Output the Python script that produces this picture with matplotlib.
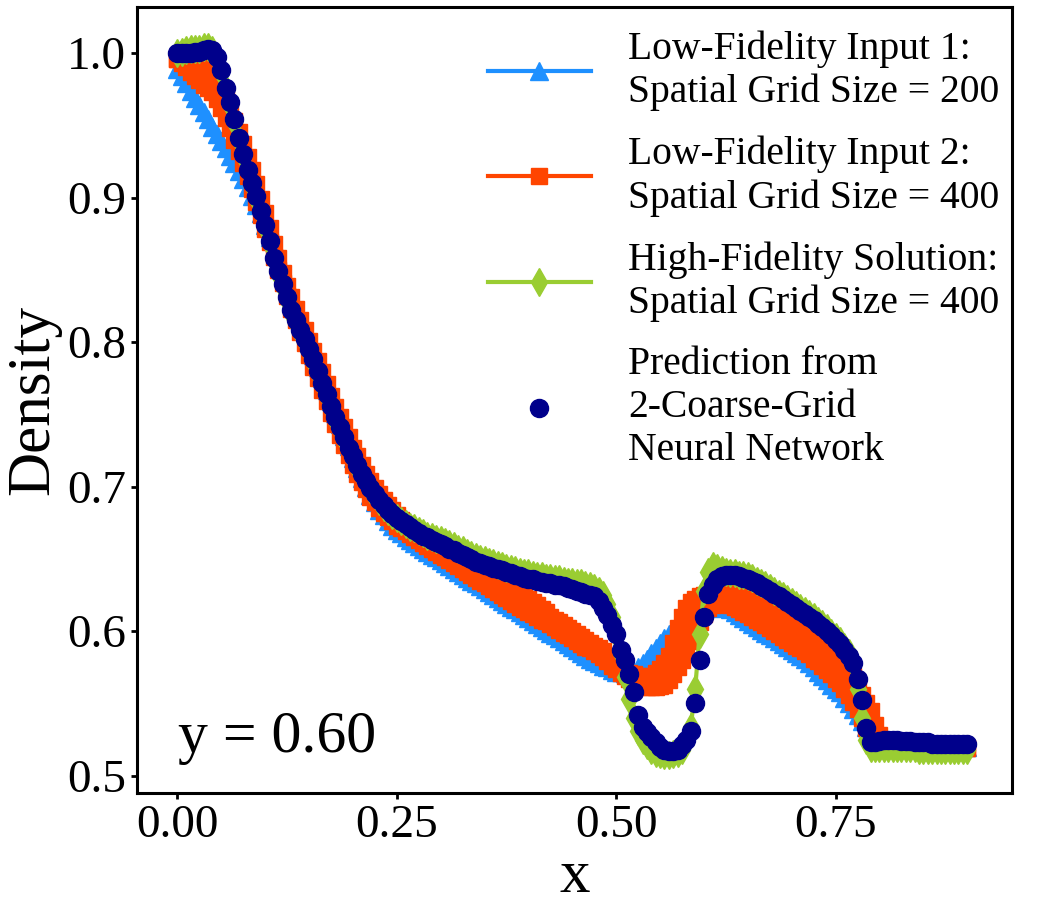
import numpy as np
import matplotlib
matplotlib.use("Agg")
import matplotlib.pyplot as plt

plt.rcParams['font.family'] = ['Liberation Serif', 'DejaVu Serif']
plt.rcParams['mathtext.fontset'] = 'stix'

# spatial grid (x positions of the samples)
x = np.linspace(0.0, 0.9, 181)

nn_pred = [
    1.000, 1.000, 1.000, 1.000, 1.001, 1.001, 1.002, 1.003, 1.002, 0.997,
    0.988, 0.976, 0.966, 0.954, 0.941, 0.930, 0.919, 0.910, 0.901, 0.891,
    0.881, 0.870, 0.858, 0.849, 0.840, 0.831, 0.822, 0.815, 0.808, 0.802,
    0.795, 0.788, 0.780, 0.772, 0.764, 0.756, 0.748, 0.741, 0.734, 0.727,
    0.721, 0.715, 0.709, 0.704, 0.699, 0.695, 0.691, 0.687, 0.684, 0.681,
    0.678, 0.676, 0.674, 0.672, 0.670, 0.668, 0.666, 0.665, 0.663, 0.662,
    0.660, 0.659, 0.657, 0.656, 0.654, 0.653, 0.651, 0.650, 0.648, 0.647,
    0.646, 0.645, 0.644, 0.643, 0.642, 0.641, 0.640, 0.639, 0.638, 0.637,
    0.636, 0.636, 0.635, 0.634, 0.633, 0.633, 0.632, 0.632, 0.631, 0.630,
    0.629, 0.628, 0.627, 0.626, 0.625, 0.624, 0.621, 0.616, 0.611, 0.604,
    0.598, 0.587, 0.580, 0.570, 0.558, 0.542, 0.534, 0.530, 0.527, 0.523,
    0.520, 0.518, 0.517, 0.517, 0.518, 0.521, 0.525, 0.531, 0.550, 0.580,
    0.610, 0.626, 0.632, 0.636, 0.638, 0.639, 0.639, 0.639, 0.638, 0.637,
    0.636, 0.635, 0.633, 0.631, 0.630, 0.628, 0.626, 0.624, 0.622, 0.620,
    0.618, 0.616, 0.614, 0.612, 0.610, 0.608, 0.605, 0.603, 0.600, 0.597,
    0.594, 0.591, 0.587, 0.583, 0.578, 0.567, 0.552, 0.533, 0.523, 0.523,
    0.524, 0.525, 0.525, 0.525, 0.525, 0.524, 0.524, 0.524, 0.523, 0.523,
    0.523, 0.523, 0.522, 0.522, 0.522, 0.522, 0.522, 0.522, 0.522, 0.522,
    0.522,
]

high_fidelity = [
    1.000, 1.001, 1.002, 1.003, 1.003, 1.003, 1.004, 1.004, 1.002, 0.996,
    0.987, 0.975, 0.964, 0.952, 0.940, 0.929, 0.918, 0.908, 0.899, 0.889,
    0.879, 0.868, 0.857, 0.847, 0.838, 0.829, 0.820, 0.813, 0.806, 0.800,
    0.793, 0.786, 0.778, 0.770, 0.762, 0.754, 0.746, 0.739, 0.732, 0.725,
    0.719, 0.713, 0.708, 0.703, 0.698, 0.694, 0.690, 0.686, 0.683, 0.680,
    0.678, 0.676, 0.674, 0.672, 0.671, 0.669, 0.668, 0.666, 0.665, 0.664,
    0.663, 0.662, 0.660, 0.659, 0.657, 0.656, 0.654, 0.653, 0.651, 0.650,
    0.649, 0.648, 0.647, 0.646, 0.645, 0.644, 0.643, 0.642, 0.641, 0.640,
    0.640, 0.639, 0.638, 0.638, 0.637, 0.637, 0.636, 0.636, 0.635, 0.634,
    0.634, 0.633, 0.633, 0.632, 0.631, 0.630, 0.628, 0.625, 0.619, 0.610,
    0.598, 0.584, 0.568, 0.553, 0.540, 0.531, 0.525, 0.521, 0.518, 0.516,
    0.515, 0.514, 0.514, 0.515, 0.516, 0.518, 0.523, 0.534, 0.560, 0.598,
    0.628, 0.641, 0.645, 0.644, 0.642, 0.641, 0.640, 0.640, 0.639, 0.639,
    0.638, 0.637, 0.635, 0.633, 0.632, 0.630, 0.628, 0.626, 0.624, 0.622,
    0.620, 0.618, 0.616, 0.614, 0.612, 0.610, 0.607, 0.605, 0.602, 0.599,
    0.596, 0.593, 0.589, 0.585, 0.578, 0.560, 0.540, 0.525, 0.519, 0.519,
    0.519, 0.519, 0.519, 0.519, 0.519, 0.519, 0.519, 0.519, 0.519, 0.518,
    0.518, 0.518, 0.518, 0.518, 0.518, 0.518, 0.518, 0.518, 0.518, 0.518,
    0.518,
]

low_fidelity_1 = [
    0.989, 0.984, 0.979, 0.974, 0.969, 0.964, 0.959, 0.954, 0.949, 0.944,
    0.939, 0.934, 0.929, 0.924, 0.918, 0.913, 0.907, 0.901, 0.895, 0.889,
    0.881, 0.873, 0.865, 0.857, 0.849, 0.840, 0.832, 0.824, 0.815, 0.807,
    0.799, 0.791, 0.783, 0.775, 0.767, 0.759, 0.751, 0.743, 0.735, 0.728,
    0.720, 0.713, 0.706, 0.700, 0.694, 0.689, 0.684, 0.680, 0.676, 0.673,
    0.670, 0.668, 0.665, 0.663, 0.661, 0.659, 0.657, 0.655, 0.653, 0.651,
    0.649, 0.647, 0.645, 0.643, 0.641, 0.639, 0.637, 0.635, 0.633, 0.631,
    0.629, 0.627, 0.625, 0.623, 0.621, 0.619, 0.617, 0.615, 0.613, 0.611,
    0.609, 0.607, 0.605, 0.603, 0.601, 0.599, 0.597, 0.595, 0.593, 0.591,
    0.589, 0.587, 0.585, 0.583, 0.581, 0.579, 0.578, 0.576, 0.575, 0.573,
    0.572, 0.572, 0.571, 0.571, 0.572, 0.575, 0.578, 0.581, 0.585, 0.588,
    0.592, 0.595, 0.598, 0.601, 0.604, 0.606, 0.608, 0.610, 0.612, 0.613,
    0.615, 0.616, 0.617, 0.617, 0.617, 0.616, 0.615, 0.613, 0.611, 0.609,
    0.607, 0.605, 0.603, 0.601, 0.599, 0.597, 0.595, 0.593, 0.591, 0.589,
    0.587, 0.585, 0.583, 0.581, 0.578, 0.575, 0.572, 0.569, 0.566, 0.563,
    0.560, 0.558, 0.554, 0.550, 0.546, 0.542, 0.538, 0.534, 0.529, 0.524,
    0.522, 0.521, 0.521, 0.521, 0.521, 0.521, 0.521, 0.521, 0.521, 0.521,
    0.520, 0.520, 0.520, 0.520, 0.520, 0.520, 0.520, 0.520, 0.520, 0.520,
    0.520,
]

# grid-400 low-fidelity solution: alternating samples (upper / lower branch)
low_fidelity_2_upper = [
    0.996, 0.998, 0.999, 0.999, 0.999, 0.998, 0.996, 0.993, 0.988, 0.982,
    0.975, 0.968, 0.961, 0.953, 0.945, 0.937, 0.928, 0.919, 0.909, 0.899,
    0.889, 0.879, 0.868, 0.858, 0.848, 0.839, 0.831, 0.823, 0.815, 0.808,
    0.801, 0.794, 0.787, 0.779, 0.771, 0.763, 0.755, 0.748, 0.741, 0.734,
    0.727, 0.721, 0.715, 0.709, 0.704, 0.699, 0.695, 0.691, 0.687, 0.684,
    0.680, 0.677, 0.674, 0.671, 0.668, 0.666, 0.664, 0.662, 0.660, 0.658,
    0.656, 0.654, 0.652, 0.650, 0.648, 0.646, 0.644, 0.642, 0.641, 0.639,
    0.637, 0.636, 0.634, 0.633, 0.631, 0.630, 0.628, 0.627, 0.625, 0.624,
    0.622, 0.620, 0.618, 0.615, 0.613, 0.610, 0.608, 0.606, 0.604, 0.602,
    0.600, 0.598, 0.596, 0.594, 0.592, 0.590, 0.588, 0.586, 0.583, 0.580,
    0.577, 0.575, 0.573, 0.571, 0.570, 0.569, 0.568, 0.568, 0.569, 0.571,
    0.574, 0.578, 0.583, 0.592, 0.602, 0.610, 0.616, 0.620, 0.622, 0.624,
    0.625, 0.626, 0.627, 0.628, 0.628, 0.628, 0.628, 0.628, 0.627, 0.626,
    0.625, 0.624, 0.623, 0.622, 0.620, 0.619, 0.617, 0.615, 0.613, 0.611,
    0.609, 0.607, 0.605, 0.603, 0.601, 0.599, 0.596, 0.594, 0.591, 0.588,
    0.585, 0.582, 0.578, 0.574, 0.569, 0.563, 0.556, 0.550, 0.545, 0.535,
    0.528, 0.523, 0.521, 0.520, 0.520, 0.520, 0.520, 0.520, 0.520, 0.520,
    0.519, 0.519, 0.519, 0.519, 0.519, 0.519, 0.519, 0.519, 0.519, 0.519,
    0.519,
]

low_fidelity_2_lower = [
    0.996, 0.993, 0.990, 0.987, 0.984, 0.981, 0.978, 0.976, 0.973, 0.968,
    0.962, 0.955, 0.948, 0.940, 0.932, 0.924, 0.915, 0.906, 0.897, 0.888,
    0.878, 0.869, 0.859, 0.850, 0.841, 0.832, 0.823, 0.815, 0.807, 0.799,
    0.791, 0.783, 0.775, 0.767, 0.759, 0.751, 0.743, 0.736, 0.729, 0.722,
    0.715, 0.709, 0.703, 0.698, 0.693, 0.689, 0.685, 0.682, 0.679, 0.676,
    0.673, 0.671, 0.669, 0.667, 0.665, 0.663, 0.661, 0.659, 0.657, 0.655,
    0.653, 0.651, 0.649, 0.647, 0.645, 0.643, 0.641, 0.639, 0.637, 0.635,
    0.633, 0.631, 0.629, 0.627, 0.625, 0.623, 0.621, 0.619, 0.617, 0.615,
    0.613, 0.612, 0.610, 0.608, 0.607, 0.605, 0.603, 0.601, 0.599, 0.597,
    0.595, 0.593, 0.591, 0.589, 0.588, 0.586, 0.584, 0.582, 0.579, 0.576,
    0.574, 0.571, 0.569, 0.567, 0.565, 0.563, 0.562, 0.561, 0.561, 0.561,
    0.562, 0.563, 0.566, 0.570, 0.575, 0.580, 0.586, 0.593, 0.600, 0.606,
    0.612, 0.616, 0.618, 0.619, 0.619, 0.619, 0.618, 0.617, 0.615, 0.613,
    0.612, 0.610, 0.608, 0.606, 0.604, 0.602, 0.600, 0.598, 0.596, 0.594,
    0.592, 0.590, 0.588, 0.586, 0.584, 0.581, 0.579, 0.576, 0.573, 0.570,
    0.567, 0.564, 0.560, 0.556, 0.551, 0.546, 0.540, 0.533, 0.527, 0.523,
    0.521, 0.520, 0.520, 0.520, 0.520, 0.520, 0.520, 0.520, 0.520, 0.520,
    0.519, 0.519, 0.519, 0.519, 0.519, 0.519, 0.519, 0.519, 0.519, 0.519,
    0.519,
]

labels = [
    "Low-Fidelity Input 1:\nSpatial Grid Size = 200",
    "Low-Fidelity Input 2:\nSpatial Grid Size = 400",
    "High-Fidelity Solution:\nSpatial Grid Size = 400",
    "Prediction from\n2-Coarse-Grid\nNeural Network",
]
x_ticks = [0.00, 0.25, 0.50, 0.75]
y_ticks = [0.5, 0.6, 0.7, 0.8, 0.9, 1.0]

# interleave the two branches of the 400-grid solution
x_lf2 = np.repeat(x, 2)
y_lf2 = np.column_stack([low_fidelity_2_upper, low_fidelity_2_lower]).ravel()

W, H = 1038, 913
fig = plt.figure(figsize=(W / 100, H / 100), dpi=100)
ax = fig.add_axes([137 / W, (H - 793) / H, (1012 - 137) / W, (793 - 7) / H])

ax.plot(x, low_fidelity_1, color='#1E90FF', marker='^', markersize=13,
        linewidth=3, label=labels[0], zorder=2)
ax.plot(x_lf2, y_lf2, color='#FF4500', marker='s', markersize=12,
        linewidth=3, label=labels[1], zorder=3)
ax.plot(x, high_fidelity, color='#9ACD32', marker='d', markersize=14,
        linewidth=3, label=labels[2], zorder=4)
ax.plot(x, nn_pred, color='#00008B', marker='o', markersize=13,
        linestyle='none', label=labels[3], zorder=5)

ax.set_xlim(-0.046, 0.951)
ax.set_ylim(0.488, 1.0318)
ax.set_xticks(x_ticks)
ax.set_xticklabels([f"{v:.2f}" for v in x_ticks])
ax.set_yticks(y_ticks)
ax.set_yticklabels([f"{v:.1f}" for v in y_ticks])
ax.tick_params(axis='both', labelsize=34, length=4, width=2, direction='out',
               pad=4)

for s in ax.spines.values():
    s.set_linewidth(2.2)
    s.set_color('black')

ax.set_xlabel('x', fontsize=44, labelpad=2)
ax.set_ylabel('Density', fontsize=44, labelpad=4)

ax.text(0.047, 0.035, 'y = 0.60', transform=ax.transAxes, fontsize=43,
        ha='left', va='bottom')

ax.legend(loc='upper right', frameon=False, fontsize=28.5, handlelength=2.6,
          handletextpad=0.95, labelspacing=0.62, borderaxespad=0.2,
          bbox_to_anchor=(1.013, 1.0))

fig.savefig('out.png', dpi=100)
